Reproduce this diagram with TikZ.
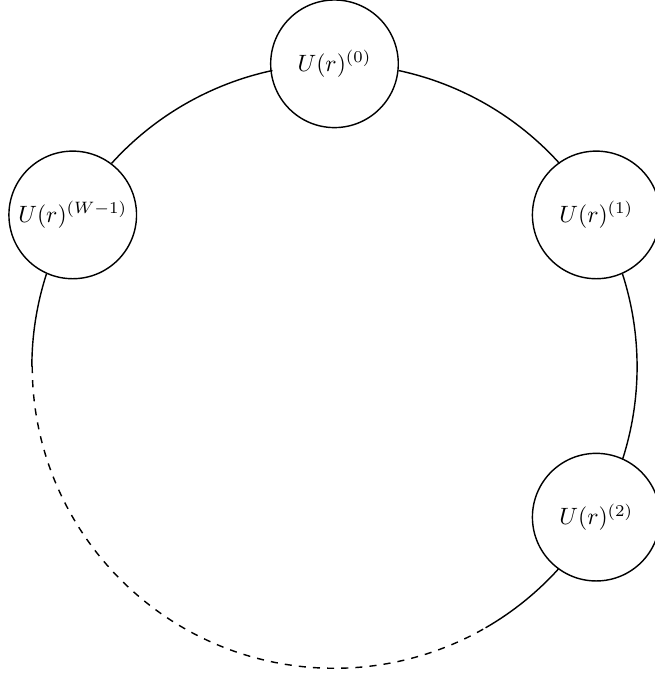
\documentclass[tikz,border=0pt]{standalone}
\tikzset{
    ustate/.style ={
        shape=circle,
        draw=black,
        fill=white,
        minimum size=1.9cm,
        inner sep=0pt
    }
}
\begin{document}
\begin{tikzpicture}[semithick]
    \def\R{4.5}
    \useasboundingbox (-4.98,-4.60) rectangle (4.77,5.45);
    \node[ustate] (u0) at (90:\R) {$U(r)^{(0)}$};
    \node[ustate] (u1) at (30:\R) {$U(r)^{(1)}$};
    \node[ustate] (u2) at (-30:\R) {$U(r)^{(2)}$};
    \node[ustate] (uw) at (150:\R) {$U(r)^{(W-1)}$};
    \coordinate (d1) at (180:\R);
    \coordinate (d2) at (300:\R);
    % arcs between neighbouring units
    \draw (u0.-6.1) arc[start angle=77.9, end angle=42.1, radius=\R];
    \draw (u1.-66.1) arc[start angle=17.9, end angle=-17.9, radius=\R];
    \draw (uw.53.9) arc[start angle=137.9, end angle=102.1, radius=\R];
    % the rest of the ring
    \draw (uw.246.1) arc[start angle=162.1, end angle=180, radius=\R];
    \draw[dashed] (d1) arc[start angle=180, end angle=300, radius=\R];
    \draw (d2) arc[start angle=300, end angle=317.9, radius=\R];
\end{tikzpicture}
\end{document}
